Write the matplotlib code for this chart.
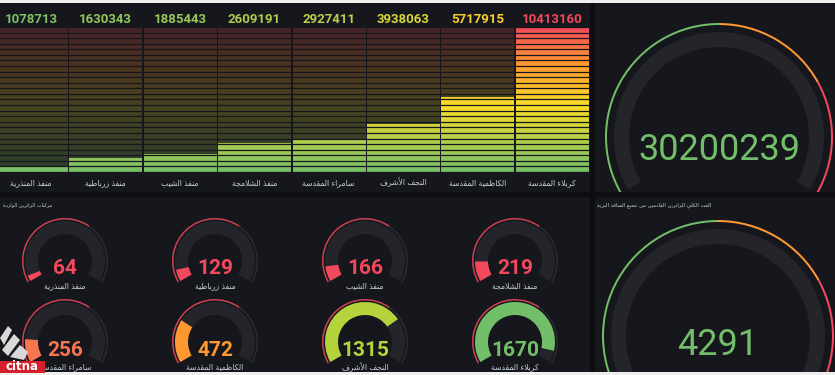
import numpy as np
import matplotlib.pyplot as plt
from matplotlib.patches import Rectangle, Wedge, Polygon
from matplotlib.colors import LinearSegmentedColormap, to_rgb

W, H = 835, 375

# bar gauge: visitors per entry point
bar_names = ["منفذ المنذرية", "منفذ زرباطية", "منفذ الشيب", "منفذ الشلامجة",
             "سامراء المقدسة", "النجف الأشرف", "الكاظمية المقدسة", "كربلاء المقدسة"]
bar_values = [1078713, 1630343, 1885443, 2609191, 2927411, 3938063, 5717915, 10413160]
bar_floor = 700000

# small gauges (two rows of four)
gauge_names = ["منفذ المنذرية", "منفذ زرباطية", "منفذ الشيب", "منفذ الشلامجة",
               "سامراء المقدسة", "الكاظمية المقدسة", "النجف الأشرف", "كربلاء المقدسة"]
gauge_values = [64, 129, 166, 219, 256, 472, 1315, 1670]
gauge_max = 1800

total_visitors = 30200239
total_vehicles = 4291

left_title = "مركبات الزائرين الواردة"
right_title = "العدد الكلي للزائرين القادمين من جميع المنافذ البرية"

BG = "#0d0e11"
PANEL = "#16171c"
BAND = "#23252b"
GREEN = "#73bf69"
LIME = "#b5d33a"
YELLOW = "#fade2a"
ORANGE = "#ff9830"
CORAL = "#f5764f"
RED = "#f2495c"
TEXT = "#c7d0d9"

# minimal arabic shaping (presentation forms B) since matplotlib does no shaping
FORMS = {
    'ء': (0xFE80, 1), 'آ': (0xFE81, 2), 'أ': (0xFE83, 2), 'إ': (0xFE87, 2), 'ئ': (0xFE89, 4),
    'ا': (0xFE8D, 2), 'ب': (0xFE8F, 4), 'ة': (0xFE93, 2), 'ت': (0xFE95, 4), 'ث': (0xFE99, 4),
    'ج': (0xFE9D, 4), 'ح': (0xFEA1, 4), 'خ': (0xFEA5, 4), 'د': (0xFEA9, 2), 'ذ': (0xFEAB, 2),
    'ر': (0xFEAD, 2), 'ز': (0xFEAF, 2), 'س': (0xFEB1, 4), 'ش': (0xFEB5, 4), 'ص': (0xFEB9, 4),
    'ض': (0xFEBD, 4), 'ط': (0xFEC1, 4), 'ظ': (0xFEC5, 4), 'ع': (0xFEC9, 4), 'غ': (0xFECD, 4),
    'ف': (0xFED1, 4), 'ق': (0xFED5, 4), 'ك': (0xFED9, 4), 'ل': (0xFEDD, 4), 'م': (0xFEE1, 4),
    'ن': (0xFEE5, 4), 'ه': (0xFEE9, 4), 'و': (0xFEED, 2), 'ى': (0xFEEF, 2), 'ي': (0xFEF1, 4),
}
LAM_ALEF = {'آ': 0xFEF5, 'أ': 0xFEF7, 'إ': 0xFEF9, 'ا': 0xFEFB}


def ar(text):
    out = []
    i = 0
    while i < len(text):
        c = text[i]
        if c not in FORMS:
            out.append(c)
            i += 1
            continue
        prev = text[i - 1] if i > 0 else ''
        joins_prev = prev in FORMS and FORMS[prev][1] == 4
        if c == 'ل' and i + 1 < len(text) and text[i + 1] in LAM_ALEF:
            out.append(chr(LAM_ALEF[text[i + 1]] + (1 if joins_prev else 0)))
            i += 2
            continue
        nxt = text[i + 1] if i + 1 < len(text) else ''
        base, n = FORMS[c]
        joins_next = n == 4 and nxt in FORMS and FORMS[nxt][1] > 1
        if n == 1:
            form = 0
        elif joins_prev and joins_next:
            form = 3
        elif joins_prev:
            form = 1
        elif joins_next:
            form = 2
        else:
            form = 0
        out.append(chr(base + form))
        i += 1
    return ''.join(reversed(out))


def box(x0, y0, w, h):
    return [x0 / W, 1 - (y0 + h) / H, w / W, h / H]


def gauge_color(v):
    if v >= 1500:
        return GREEN
    if v >= 1000:
        return LIME
    if v >= 400:
        return ORANGE
    if v >= 250:
        return CORAL
    return RED


fig = plt.figure(figsize=(W / 100, H / 100), dpi=100, facecolor=BG)

# panels
bg = fig.add_axes([0, 0, 1, 1])
bg.set_xlim(0, W)
bg.set_ylim(H, 0)
bg.axis("off")
for x0, y0, w, h in [(0, 3, 590, 189), (595, 3, 240, 189), (0, 197, 590, 175), (595, 197, 240, 175)]:
    bg.add_patch(Rectangle((x0, y0), w, h, color=PANEL, lw=0))
bg.text(3, 205, ar(left_title), family="DejaVu Sans", fontsize=3.6, color=TEXT, ha="left", va="center")
bg.text(597, 205, ar(right_title), family="DejaVu Sans", fontsize=3.8, color=TEXT, ha="left", va="center")

# bar gauge
cmap = LinearSegmentedColormap.from_list("bars", [(0, GREEN), (0.45, YELLOW), (0.75, ORANGE), (1, RED)])
grad = cmap(np.linspace(0, 1, 256))[:, :3][:, None, :]
dim = grad * 0.22 + np.array(to_rgb(PANEL)) * 0.78
top = max(bar_values)

ax = fig.add_axes(box(-6, 27, 595, 145))
ax.set_facecolor(BG)
x = np.arange(len(bar_values))
bars = ax.bar(x, bar_values, width=0.97, color="none", lw=0)
for i, (b, v) in enumerate(zip(bars, bar_values)):
    ext = (i - 0.485, i + 0.485, bar_floor, top)
    ax.imshow(dim, extent=ext, origin="lower", aspect="auto", interpolation="bilinear")
    im = ax.imshow(grad, extent=ext, origin="lower", aspect="auto", interpolation="bilinear")
    im.set_clip_path(b)
    frac = (v - bar_floor) / (top - bar_floor)
    ax.text(i, 1.05, str(v), transform=ax.get_xaxis_transform(), ha="center", va="center",
            family="Roboto", fontsize=9.5, fontweight="bold", color=cmap(frac), clip_on=False)
    ax.text(i, -0.07, ar(bar_names[i]), transform=ax.get_xaxis_transform(), ha="center", va="center",
            family="DejaVu Sans", fontsize=5.5, color=TEXT, clip_on=False)
for y in np.linspace(bar_floor, top, 27):
    ax.axhline(y, color=PANEL, lw=0.9)
ax.set_xlim(-0.5, len(bar_values) - 0.5)
ax.set_ylim(bar_floor, top)
ax.axis("off")

# small gauges
ga = fig.add_axes([0, 0, 1, 1])
ga.set_xlim(0, W)
ga.set_ylim(0, H)
ga.axis("off")
centers_x = [65, 215, 365, 515]
centers_y = [261, 342]
for k, (name, v) in enumerate(zip(gauge_names, gauge_values)):
    cx = centers_x[k % 4]
    cy = H - centers_y[k // 4]
    col = gauge_color(v)
    end = 210 - 240 * v / gauge_max
    ga.add_patch(Wedge((cx, cy), 43, 55, 210, width=1.5, color=RED, alpha=0.85, lw=0))
    ga.add_patch(Wedge((cx, cy), 43, -30, 55, width=1.5, color="#2a2c33", lw=0))
    ga.add_patch(Wedge((cx, cy), 40, -30, 210, width=13, color=BAND, lw=0))
    ga.add_patch(Wedge((cx, cy), 40, end, 210, width=13, color=col, lw=0))
    ga.text(cx, cy - 8, str(v), ha="center", va="center", family="Roboto", fontsize=15,
            fontweight="bold", color=col)
    ga.text(cx, cy - 25, ar(name), ha="center", va="center", family="DejaVu Sans",
            fontsize=5.5, color=TEXT)

# big gauges
for (x0, y0, w, h), (cx, cy), r, value, dy in [
    ((595, 3, 240, 189), (719, 137), 114, total_visitors, 13),
    ((595, 197, 240, 175), (718, 336), 116, total_vehicles, 9),
]:
    gx = fig.add_axes(box(x0, y0, w, h))
    gx.set_xlim(x0, x0 + w)
    gx.set_ylim(H - y0 - h, H - y0)
    gx.axis("off")
    c = (cx, H - cy)
    gx.add_patch(Wedge(c, r, 90, 210, width=2, color=GREEN, lw=0))
    gx.add_patch(Wedge(c, r, 29, 90, width=2, color=ORANGE, lw=0))
    gx.add_patch(Wedge(c, r, -30, 29, width=2, color=RED, lw=0))
    gx.add_patch(Wedge(c, r - 9, -30, 210, width=15, color=BAND, lw=0))
    gx.text(cx, H - cy - dy, str(value), ha="center", va="center", family="Roboto",
            fontsize=26, color=GREEN)

# page edges and watermark
ov = fig.add_axes([0, 0, 1, 1])
ov.set_xlim(0, W)
ov.set_ylim(H, 0)
ov.axis("off")
ov.add_patch(Rectangle((0, 0), W, 3, color="#eeeeee", lw=0))
ov.add_patch(Rectangle((0, 372), W, 3, color="#eeeeee", lw=0))
for pts in [[(0, 338), (8, 326), (12, 330), (4, 345)],
            [(2, 350), (14, 334), (20, 340), (8, 356)],
            [(10, 357), (20, 345), (28, 352), (24, 360)]]:
    ov.add_patch(Polygon(pts, closed=True, color="#d9d9d9", lw=0))
ov.add_patch(Rectangle((0, 361), 45, 12, color="#d3202c", lw=0))
ov.text(22, 367, "citna", ha="center", va="center", family="DejaVu Sans", fontsize=8.5,
        fontweight="bold", color="white")

fig.savefig("out.png", dpi=100, facecolor=BG)
